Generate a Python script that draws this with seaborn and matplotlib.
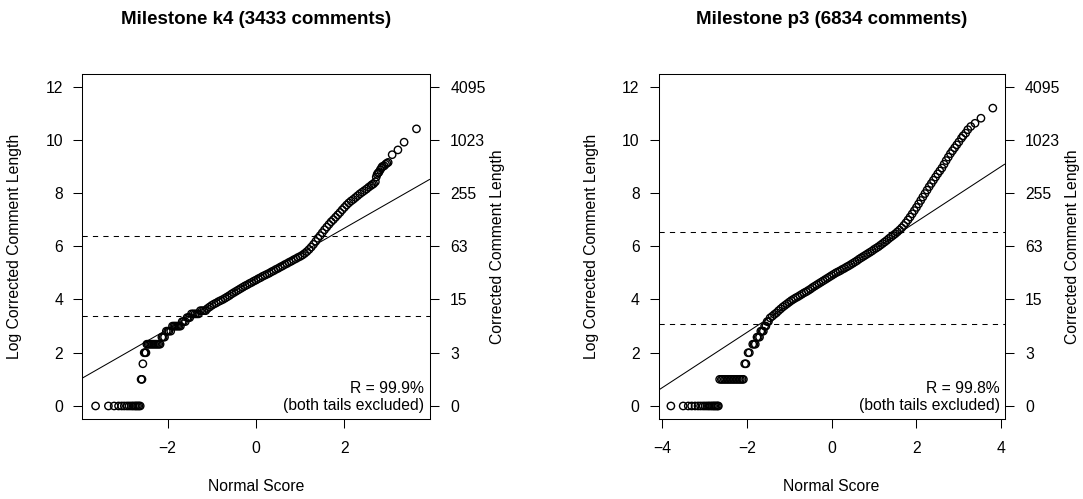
import matplotlib
matplotlib.use('Agg')
import matplotlib.pyplot as plt
from matplotlib.ticker import MultipleLocator
import pandas as pd
import seaborn as sns

# milestone k4: normal score vs log2(corrected length + 1)
# lower tail (discrete steps)
k4_low_score = [-3.63, -3.34, -3.21, -3.11, -3.04, -2.98, -2.92, -2.87, -2.82, -2.78, -2.74, -2.71,
                -2.68, -2.65, -2.62,
                -2.60, -2.58, -2.56, -2.53, -2.51, -2.49,
                -2.47, -2.44, -2.41, -2.38, -2.35, -2.32, -2.29, -2.26, -2.23, -2.20, -2.17,
                -2.13, -2.10, -2.07, -2.03, -2.00, -1.97, -1.93,
                -1.89, -1.86, -1.83, -1.80, -1.77, -1.74, -1.71, -1.67, -1.64, -1.60,
                -1.56, -1.53, -1.50, -1.46, -1.42, -1.38, -1.34, -1.30, -1.26, -1.22, -1.18, -1.14]
k4_low_value = [0, 0, 0, 0, 0, 0, 0, 0, 0, 0, 0, 0,
                0, 0, 0,
                1.0, 1.0, 1.585, 2.0, 2.0, 2.0,
                2.32, 2.32, 2.32, 2.32, 2.32, 2.32, 2.32, 2.32, 2.32, 2.32, 2.32,
                2.585, 2.585, 2.585, 2.81, 2.81, 2.81, 2.81,
                3.0, 3.0, 3.0, 3.0, 3.0, 3.0, 3.0, 3.17, 3.17, 3.17,
                3.32, 3.32, 3.32, 3.46, 3.46, 3.46, 3.46, 3.46, 3.58, 3.58, 3.58, 3.58]
# middle band
k4_mid_score = [-1.10, -1.05, -1.00, -0.95, -0.90, -0.85, -0.80, -0.75, -0.70, -0.65, -0.60,
                -0.55, -0.50, -0.45, -0.40, -0.35, -0.30, -0.25, -0.20, -0.15, -0.10, -0.05,
                0.00, 0.05, 0.10, 0.15, 0.20, 0.25, 0.30, 0.35, 0.40, 0.45, 0.50, 0.55,
                0.60, 0.65, 0.70, 0.75, 0.80, 0.85, 0.90, 0.95, 1.00, 1.05, 1.10, 1.15,
                1.20, 1.25, 1.30, 1.35, 1.40, 1.45, 1.50, 1.55, 1.60, 1.65, 1.70, 1.75,
                1.80, 1.85, 1.90, 1.95, 2.00, 2.05, 2.10, 2.15, 2.20, 2.25, 2.30, 2.35,
                2.40, 2.45, 2.50, 2.55, 2.60]
k4_mid_value = [3.66, 3.72, 3.78, 3.83, 3.87, 3.92, 3.96, 4.00, 4.05, 4.10, 4.15,
                4.21, 4.26, 4.31, 4.36, 4.41, 4.46, 4.51, 4.55, 4.60, 4.64, 4.69,
                4.73, 4.78, 4.82, 4.87, 4.91, 4.95, 4.99, 5.04, 5.08, 5.13, 5.17, 5.22,
                5.26, 5.31, 5.35, 5.40, 5.44, 5.49, 5.53, 5.58, 5.62, 5.67, 5.73, 5.80,
                5.88, 5.97, 6.07, 6.18, 6.30, 6.40, 6.51, 6.62, 6.72, 6.82, 6.92, 7.00,
                7.09, 7.18, 7.27, 7.37, 7.46, 7.55, 7.63, 7.70, 7.76, 7.83, 7.90, 7.97,
                8.03, 8.09, 8.15, 8.22, 8.28]
# upper tail
k4_high_score = [2.63, 2.66, 2.70, 2.72, 2.74, 2.76, 2.78, 2.81, 2.84, 2.86, 2.90, 2.93, 2.96,
                 2.99, 3.08, 3.21, 3.35, 3.63]
k4_high_value = [8.32, 8.35, 8.42, 8.60, 8.70, 8.75, 8.78, 8.87, 8.95, 9.00, 9.02, 9.08, 9.12,
                 9.15, 9.44, 9.62, 9.91, 10.41]
k4_intercept, k4_slope = 4.78, 0.95
k4_cutoffs = [3.38, 6.37]

# milestone p3
p3_low_score = [-3.79, -3.50, -3.38, -3.30, -3.22, -3.15, -3.09, -3.03, -2.98, -2.93, -2.89,
                -2.85, -2.81, -2.78, -2.75, -2.72, -2.69, -2.67,
                -2.64, -2.60, -2.57, -2.53, -2.50, -2.46, -2.43, -2.39, -2.36, -2.32, -2.29,
                -2.25, -2.22, -2.18, -2.15, -2.11, -2.08,
                -2.05, -2.02, -1.97, -1.94, -1.86, -1.83, -1.80, -1.76, -1.73, -1.70,
                -1.67, -1.64, -1.61, -1.58, -1.55, -1.52, -1.49]
p3_low_value = [0, 0, 0, 0, 0, 0, 0, 0, 0, 0, 0,
                0, 0, 0, 0, 0, 0, 0,
                1.0, 1.0, 1.0, 1.0, 1.0, 1.0, 1.0, 1.0, 1.0, 1.0, 1.0,
                1.0, 1.0, 1.0, 1.0, 1.0, 1.0,
                1.585, 1.585, 2.0, 2.0, 2.32, 2.32, 2.32, 2.585, 2.585, 2.585,
                2.81, 2.81, 2.81, 3.0, 3.0, 3.17, 3.17]
p3_mid_score = [-1.45, -1.40, -1.35, -1.30, -1.25, -1.20, -1.15, -1.10, -1.05, -1.00, -0.95,
                -0.90, -0.85, -0.80, -0.75, -0.70, -0.65, -0.60, -0.55, -0.50, -0.45, -0.40,
                -0.35, -0.30, -0.25, -0.20, -0.15, -0.10, -0.05, 0.00, 0.05, 0.10, 0.15,
                0.20, 0.25, 0.30, 0.35, 0.40, 0.45, 0.50, 0.55, 0.60, 0.65, 0.70, 0.75,
                0.80, 0.85, 0.90, 0.95, 1.00, 1.05, 1.10, 1.15, 1.20, 1.25, 1.30, 1.35,
                1.40, 1.45, 1.50, 1.55, 1.60, 1.65, 1.70, 1.75, 1.80, 1.85, 1.90, 1.95,
                2.00, 2.05, 2.10, 2.15, 2.20, 2.25, 2.30, 2.35, 2.40, 2.45, 2.50, 2.55,
                2.60, 2.65, 2.70, 2.75, 2.80, 2.85, 2.90, 2.95, 3.00]
p3_mid_value = [3.31, 3.37, 3.44, 3.50, 3.58, 3.65, 3.72, 3.78, 3.84, 3.90, 3.96,
                4.01, 4.06, 4.10, 4.15, 4.20, 4.25, 4.29, 4.34, 4.39, 4.45, 4.50,
                4.55, 4.60, 4.65, 4.70, 4.75, 4.80, 4.85, 4.90, 4.95, 5.00, 5.04,
                5.08, 5.13, 5.17, 5.22, 5.26, 5.31, 5.36, 5.41, 5.46, 5.52, 5.57, 5.62,
                5.67, 5.72, 5.77, 5.82, 5.88, 5.93, 5.98, 6.04, 6.10, 6.16, 6.22, 6.29,
                6.35, 6.41, 6.47, 6.54, 6.61, 6.69, 6.78, 6.88, 6.99, 7.10, 7.22, 7.34,
                7.46, 7.59, 7.72, 7.85, 7.98, 8.11, 8.24, 8.36, 8.48, 8.60, 8.72, 8.83,
                8.94, 9.08, 9.22, 9.35, 9.48, 9.59, 9.70, 9.81, 9.92]
p3_high_score = [3.06, 3.10, 3.16, 3.21, 3.28, 3.38, 3.52, 3.80]
p3_high_value = [10.06, 10.15, 10.25, 10.38, 10.50, 10.62, 10.81, 11.19]
p3_intercept, p3_slope = 4.84, 1.04
p3_cutoffs = [3.08, 6.55]

titles = ['Milestone k4 (3433 comments)', 'Milestone p3 (6834 comments)']
r_labels = ['R = 99.9%', 'R = 99.8%']
log_ticks = [0, 2, 4, 6, 8, 10, 12]
length_labels = ['0', '3', '15', '63', '255', '1023', '4095']

sns.set_theme(style='white')
plt.rcParams['font.family'] = ['Liberation Sans', 'DejaVu Sans']
plt.rcParams['font.size'] = 11.3
for key in ['text.color', 'axes.labelcolor', 'xtick.color', 'ytick.color', 'axes.edgecolor']:
    plt.rcParams[key] = 'black'

fig = plt.figure(figsize=(10.83, 4.99), dpi=100)
ax_k4 = fig.add_axes([0.076, 0.1603, 0.3208, 0.6924])
ax_p3 = fig.add_axes([0.6081, 0.1603, 0.3196, 0.6924])

k4_df = pd.DataFrame({'score': k4_low_score + k4_mid_score + k4_high_score,
                      'log_len': k4_low_value + k4_mid_value + k4_high_value})
p3_df = pd.DataFrame({'score': p3_low_score + p3_mid_score + p3_high_score,
                      'log_len': p3_low_value + p3_mid_value + p3_high_value})

panels = [
    (ax_k4, k4_df, k4_intercept, k4_slope, k4_cutoffs, 3.93, 0.983),
    (ax_p3, p3_df, p3_intercept, p3_slope, p3_cutoffs, 4.08, 0.985),
]

for i, (ax, df, b, m, cutoffs, xmax, r_x) in enumerate(panels):
    sns.scatterplot(data=df, x='score', y='log_len', ax=ax, marker='o', s=28,
                    facecolor='none', edgecolor='black', linewidth=1.0, zorder=3)
    ax.axline((0, b), slope=m, color='black', lw=0.75)
    for c in cutoffs:
        ax.axhline(c, color='black', lw=0.75, linestyle=(0, (5, 5)))
    ax.set_xlim(-xmax, xmax)
    ax.set_ylim(-0.49, 12.49)
    ax.xaxis.set_major_locator(MultipleLocator(2))
    ax.set_yticks(log_ticks)
    ax.tick_params(axis='both', which='major', direction='out', length=6.7, width=0.75,
                   color='black', labelsize=11.3, left=True, bottom=True)
    ax.tick_params(axis='x', pad=9)
    ax.tick_params(axis='y', pad=7)
    for s in ax.spines.values():
        s.set_color('black')
        s.set_linewidth(0.75)
    ax.set_title(titles[i], fontsize=13.5, fontweight='bold', pad=36)
    ax.set_xlabel('Normal Score', fontsize=11.3, va='center')
    ax.xaxis.set_label_coords(0.5, -0.196)
    ax.set_ylabel('Log Corrected Comment Length', fontsize=11.3, va='center')
    ax.yaxis.set_label_coords(-0.195, 0.5)
    ax.text(r_x, 0.67, r_labels[i], transform=ax.get_yaxis_transform(),
            ha='right', va='center', fontsize=11.3)
    ax.text(r_x, 0.0, '(both tails excluded)', transform=ax.get_yaxis_transform(),
            ha='right', va='center', fontsize=11.3)

    ax2 = ax.twinx()
    ax2.set_ylim(ax.get_ylim())
    ax2.set_yticks(log_ticks)
    ax2.set_yticklabels(length_labels)
    ax2.tick_params(axis='y', direction='out', length=6.7, width=0.75, color='black',
                    labelsize=11.3, pad=8, right=True)
    ax2.set_ylabel('Corrected Comment Length', fontsize=11.3, va='center')
    ax2.yaxis.set_label_coords(1.196, 0.5)
    for s in ax2.spines.values():
        s.set_visible(False)

fig.savefig('out.png', dpi=100, facecolor='white')
